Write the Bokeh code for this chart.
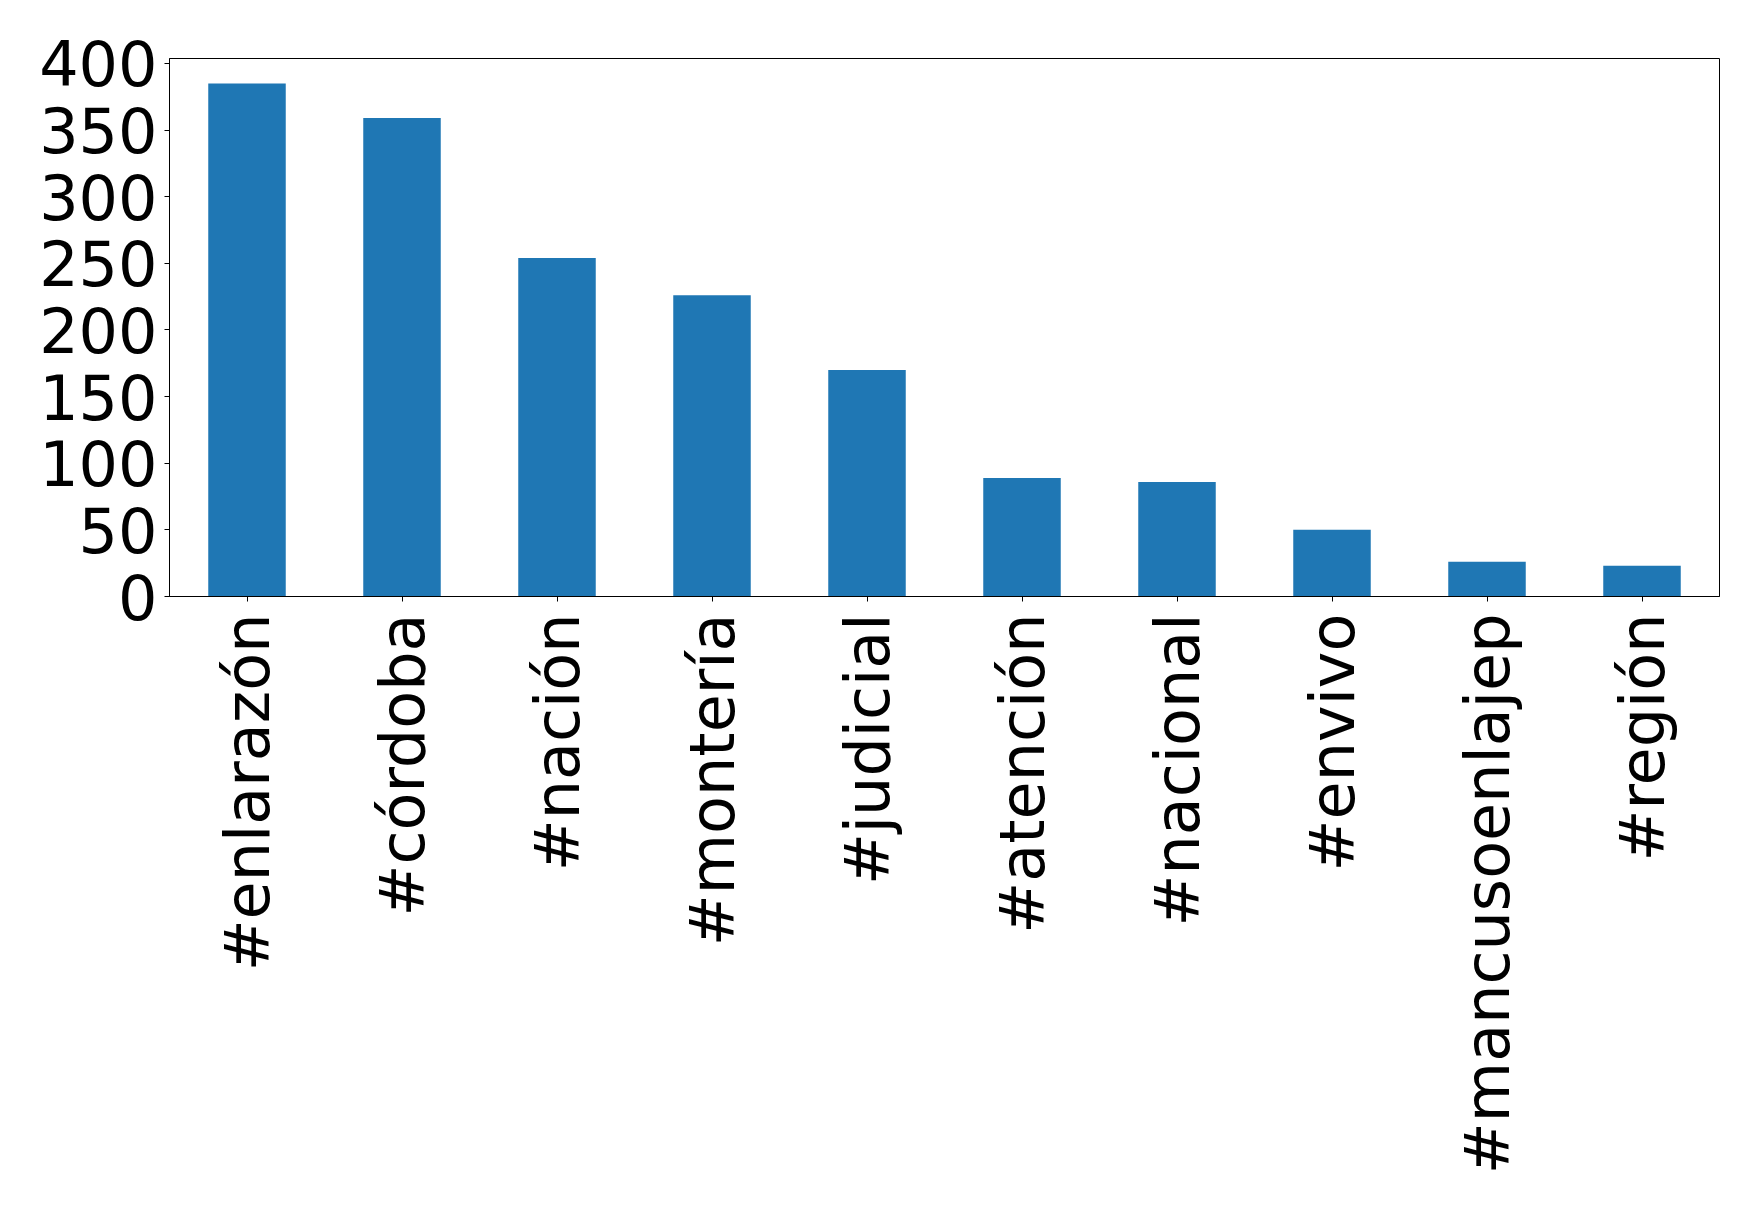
import math
from bokeh.plotting import figure
from bokeh.models import Range1d, FactorRange, FixedTicker, ColumnDataSource
from bokeh.embed import file_html
from bokeh.resources import INLINE

categories = ["#enlarazón", "#córdoba", "#nación", "#montería", "#judicial",
              "#atención", "#nacional", "#envivo", "#mancusoenlajep", "#región"]
counts = [385, 359, 254, 226, 170, 89, 86, 50, 26, 23]
y_ticks = [0, 50, 100, 150, 200, 250, 300, 350, 400]

FONT = "DejaVu Sans"
SIZE = "62px"

source = ColumnDataSource(dict(cat=categories, val=counts))

p = figure(x_range=FactorRange(*categories), y_range=Range1d(0, 403.7),
           frame_width=1550, frame_height=538,
           min_border_left=169, min_border_top=58, min_border_right=25, min_border_bottom=590,
           output_backend="svg", toolbar_location=None)

p.vbar(x="cat", top="val", width=0.5, source=source, color="#1f77b4", line_color=None)

p.xgrid.visible = False
p.ygrid.visible = False
p.outline_line_color = "black"
p.outline_line_width = 1
p.outline_line_alpha = 1
p.background_fill_color = "white"
p.border_fill_color = "white"

for ax in (p.xaxis[0], p.yaxis[0]):
    ax.axis_line_color = "black"
    ax.axis_line_width = 1
    ax.major_tick_line_color = "black"
    ax.major_tick_out = 5
    ax.major_tick_in = 0
    ax.minor_tick_line_color = None
    ax.major_label_text_font = FONT
    ax.major_label_text_font_size = SIZE
    ax.major_label_text_color = "black"

p.yaxis[0].ticker = FixedTicker(ticks=y_ticks)
p.yaxis[0].major_label_standoff = 7
p.xaxis[0].major_label_orientation = math.pi / 2
p.xaxis[0].major_label_standoff = 12

open("out.html", "w").write(file_html(p, INLINE))
